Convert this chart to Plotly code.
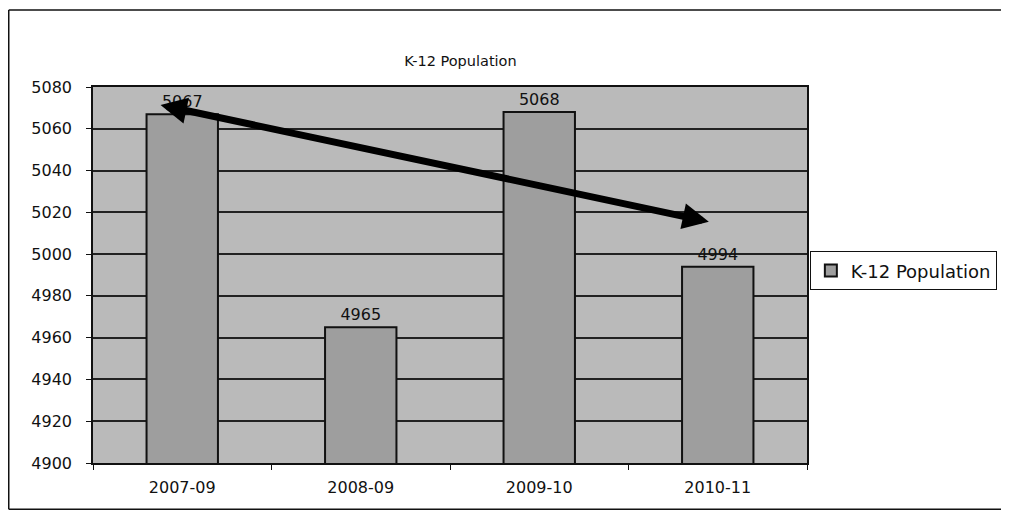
import plotly.graph_objects as go

# Data
years = ["2007-09", "2008-09", "2009-10", "2010-11"]
population = [5067, 4965, 5068, 4994]
series_name = "K-12 Population"
y_ticks = list(range(4900, 5081, 20))

fig = go.Figure()

fig.add_trace(go.Bar(x=years,
                     y=population,
                     name=series_name,
                     marker=dict(color='#9e9e9e',
                                 line=dict(color='#111', width=2)),
                     text=population,
                     textposition='outside',
                     textfont=dict(family='DejaVu Sans', size=16, color='#111'),
                     cliponaxis=False,
                     showlegend=True))

# Double-headed trend arrow (drawn by hand on the original)
fig.add_annotation(x=2.95, y=5015.5, ax=-0.13, ay=5071.5,
                   xref='x', yref='y', axref='x', ayref='y',
                   text='', showarrow=True,
                   arrowhead=2, startarrowhead=2, arrowside='end+start',
                   arrowsize=0.75, startarrowsize=0.75,
                   arrowwidth=7, arrowcolor='#000')

# Outer chart border (right side is cut off in the original)
border = dict(color='#111', width=1.5)
fig.add_shape(type='line', xref='paper', yref='paper',
              x0=-0.118, x1=-0.118, y0=-0.123, y1=1.205, line=border)
fig.add_shape(type='line', xref='paper', yref='paper',
              x0=-0.118, x1=1.4, y0=1.205, y1=1.205, line=border)
fig.add_shape(type='line', xref='paper', yref='paper',
              x0=-0.118, x1=1.4, y0=-0.123, y1=-0.123, line=border)

# page body has an 8px margin, so the figure is shifted by that much
fig.update_layout(
    width=1001, height=504,
    margin=dict(l=85, r=198, t=79, b=49),
    paper_bgcolor='white',
    plot_bgcolor='#bababa',
    bargap=0.6,
    title=dict(text='K-12 Population', x=0.452, xanchor='center',
               y=0.895, yanchor='middle',
               font=dict(family='DejaVu Sans', size=14.5, color='#111')),
    font=dict(family='DejaVu Sans', color='#111'),
    legend=dict(x=1.004, xanchor='left', y=0.511, yanchor='middle',
                bordercolor='#111', borderwidth=1,
                font=dict(family='DejaVu Sans', size=18, color='#111'),
                bgcolor='white'),
)

fig.update_xaxes(type='category',
                 showline=True, linecolor='#111', linewidth=1.5, mirror=True,
                 ticks='outside', tickson='boundaries', ticklen=5,
                 tickcolor='#111',
                 showgrid=False, ticklabelstandoff=9,
                 tickfont=dict(family='DejaVu Sans', size=16, color='#111'))

fig.update_yaxes(range=[4900, 5080], tickvals=y_ticks,
                 showline=True, linecolor='#111', linewidth=1.5, mirror=True,
                 ticks='outside', ticklen=5, tickcolor='#111',
                 showgrid=True, gridcolor='#222', gridwidth=1.5,
                 zeroline=False, ticklabelstandoff=11,
                 tickfont=dict(family='DejaVu Sans', size=16, color='#111'))

fig.write_html("out.html")
